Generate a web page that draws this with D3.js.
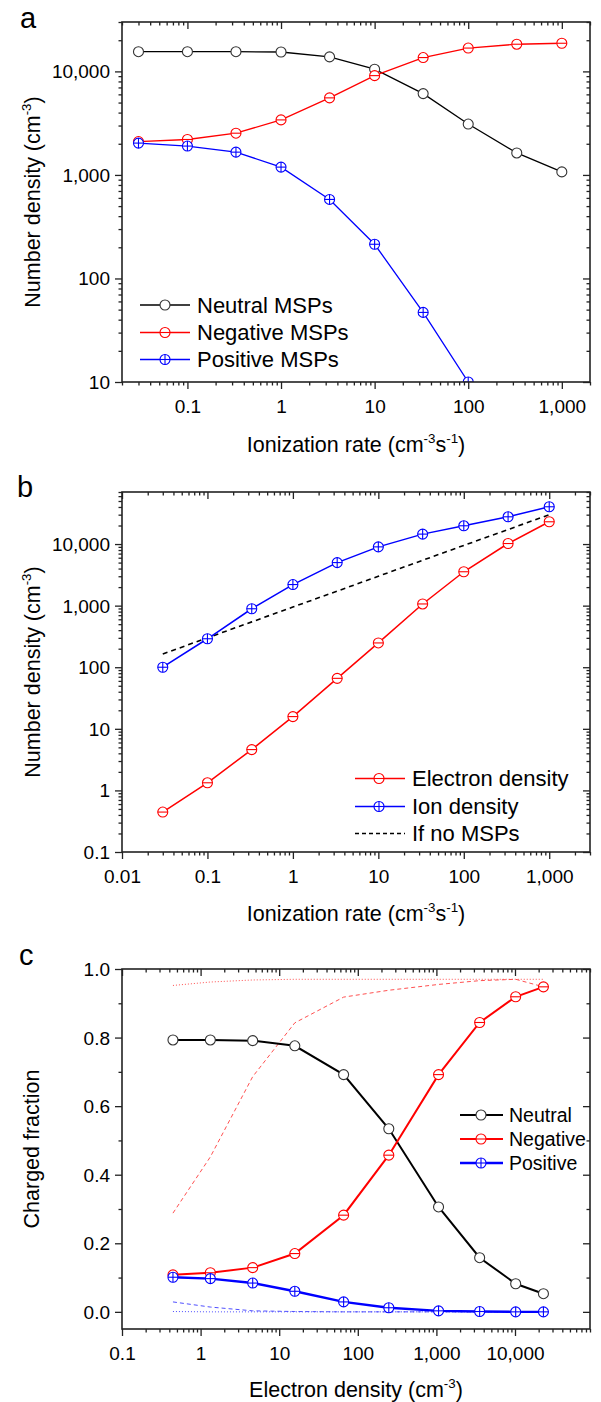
<!DOCTYPE html>
<html>
<head>
<meta charset="utf-8">
<script src="https://cdn.jsdelivr.net/npm/d3@7"></script>
<style>
  html, body { margin: 0; padding: 0; background: #fff; }
  svg { display: block; }
  text { font-family: Arial, "Liberation Sans", sans-serif; fill: #000; }
</style>
</head>
<body>
<svg id="chart" width="601" height="1402"></svg>
<script>
// ---------------- DATA ----------------
// Panel a: ionization rate vs MSP number densities
const ionRate = [0.03, 0.1, 0.33, 1, 3.3, 10, 33, 100, 330, 1000];
const neutralMSP = [15500, 15500, 15500, 15400, 13800, 10500, 6100, 3100, 1630, 1070];
const negativeMSP = [2100, 2200, 2530, 3400, 5550, 9100, 13600, 16800, 18300, 18700];
const positiveMSP = [2030, 1900, 1660, 1190, 580, 214, 47, 10];

// Panel b: ionization rate vs electron / ion density
const electronDensity = [0.445, 1.33, 4.6, 15.8, 66, 248, 1065, 3550, 10200, 23000];
const ionDensity = [100, 290, 890, 2200, 5000, 9000, 14500, 19800, 27700, 40300];
const noMSPDensity = [164, 300, 545, 950, 1720, 3000, 5450, 9500, 17200, 30000];

// Panel c: electron density vs charged fraction
const eDensityC = [0.445, 1.33, 4.6, 15.8, 66, 248, 1065, 3550, 10200, 23000];
const neutralFrac = [0.793, 0.793, 0.791, 0.776, 0.692, 0.534, 0.306, 0.158, 0.082, 0.053];
const negativeFrac = [0.108, 0.114, 0.129, 0.170, 0.282, 0.457, 0.692, 0.844, 0.919, 0.948];
const positiveFrac = [0.101, 0.097, 0.084, 0.060, 0.029, 0.012, 0.003, 0.001, 0.0, 0.0];
const negativeDashed = [0.288, 0.452, 0.686, 0.843, 0.918, 0.938, 0.955, 0.966, 0.970, 0.948];
const negativeDotted = [0.952, 0.962, 0.968, 0.970, 0.970, 0.970, 0.970, 0.970, 0.970, 0.970];
const positiveDashed = [0.029, 0.014, 0.003, 0.001, 0.0, 0.0, 0.0, 0.0, 0.0, 0.0];
const positiveDotted = [0.001, 0.0, 0.0, 0.0, 0.0, 0.0, 0.0, 0.0, 0.0, 0.0];

// Tick labels
const ticksAX = [0.1, 1, 10, 100, 1000];
const ticksAY = [10, 100, 1000, 10000];
const ticksBX = [0.01, 0.1, 1, 10, 100, 1000];
const ticksBY = [0.1, 1, 10, 100, 1000, 10000];
const ticksCX = [0.1, 1, 10, 100, 1000, 10000];
const ticksCY = [0.0, 0.2, 0.4, 0.6, 0.8, 1.0];
const ticksCYMinor = [0.1, 0.3, 0.5, 0.7, 0.9];

const legendA = ["Neutral MSPs", "Negative MSPs", "Positive MSPs"];
const legendB = ["Electron density", "Ion density", "If no MSPs"];
const legendC = ["Neutral", "Negative", "Positive"];

// ---------------- HELPERS ----------------
const svg = d3.select("#chart");
svg.append("rect").attr("width", 601).attr("height", 1402).attr("fill", "#fff");

const RED = "#ff0000", BLUE = "#0000ff", BLACK = "#000000", MK_BLACK = "#333333";
const AXIS = "#222";
const numFmt = v => v >= 1 ? d3.format(",")(v) : String(v);

function logMinors(domain) {
  const out = [];
  const lo = Math.floor(Math.log10(domain[0])), hi = Math.ceil(Math.log10(domain[1]));
  for (let e = lo; e <= hi; e++) {
    for (let k = 2; k <= 9; k++) {
      const v = k * Math.pow(10, e);
      if (v >= domain[0] * 0.9999 && v <= domain[1] * 1.0001) out.push(+v.toPrecision(6));
    }
  }
  return out;
}

function styleAxis(g) {
  g.selectAll(".domain").remove();
  g.selectAll("line").attr("stroke", AXIS).attr("stroke-width", 1.3);
  g.attr("font-family", null).attr("font-size", null);
}

function drawAxes(p, x, y, opts) {
  const { left, right, top, bottom } = p;
  const g = svg.append("g");
  // bottom
  const bMaj = g.append("g").attr("transform", `translate(0,${bottom})`)
    .call(d3.axisBottom(x).tickValues(opts.xMajor).tickFormat(opts.xFmt).tickSizeInner(7).tickSizeOuter(0));
  styleAxis(bMaj);
  bMaj.selectAll("text").attr("y", 31).attr("dy", null).style("font-size", "19px").attr("fill", "#000");
  const bMin = g.append("g").attr("transform", `translate(0,${bottom})`)
    .call(d3.axisBottom(x).tickValues(opts.xMinor).tickFormat("").tickSizeInner(3.5).tickSizeOuter(0));
  styleAxis(bMin);
  // top (inward)
  const tMaj = g.append("g").attr("transform", `translate(0,${top})`)
    .call(d3.axisTop(x).tickValues(opts.xMajor).tickFormat("").tickSizeInner(-7).tickSizeOuter(0));
  styleAxis(tMaj);
  const tMin = g.append("g").attr("transform", `translate(0,${top})`)
    .call(d3.axisTop(x).tickValues(opts.xMinor).tickFormat("").tickSizeInner(-3.5).tickSizeOuter(0));
  styleAxis(tMin);
  // left
  const lMaj = g.append("g").attr("transform", `translate(${left},0)`)
    .call(d3.axisLeft(y).tickValues(opts.yMajor).tickFormat(opts.yFmt).tickSizeInner(7).tickSizeOuter(0).tickPadding(5));
  styleAxis(lMaj);
  lMaj.selectAll("text").style("font-size", "19px").attr("fill", "#000").attr("dy", "0.34em");
  const lMin = g.append("g").attr("transform", `translate(${left},0)`)
    .call(d3.axisLeft(y).tickValues(opts.yMinor).tickFormat("").tickSizeInner(3.5).tickSizeOuter(0));
  styleAxis(lMin);
  // right (inward)
  const rMaj = g.append("g").attr("transform", `translate(${right},0)`)
    .call(d3.axisRight(y).tickValues(opts.yMajor).tickFormat("").tickSizeInner(-7).tickSizeOuter(0));
  styleAxis(rMaj);
  const rMin = g.append("g").attr("transform", `translate(${right},0)`)
    .call(d3.axisRight(y).tickValues(opts.yMinor).tickFormat("").tickSizeInner(-3.5).tickSizeOuter(0));
  styleAxis(rMin);
  // frame
  g.append("rect").attr("x", left).attr("y", top).attr("width", right - left).attr("height", bottom - top)
    .attr("fill", "none").attr("stroke", AXIS).attr("stroke-width", 1.6);
}

function richText(parent, x, y, parts, size, rotate) {
  const t = parent.append("text")
    .attr("transform", rotate ? `translate(${x},${y}) rotate(-90)` : `translate(${x},${y})`)
    .attr("text-anchor", "middle").style("font-size", size + "px");
  let raised = false;
  parts.forEach(([s, sup]) => {
    const ts = t.append("tspan").text(s);
    if (sup && !raised) { ts.attr("dy", -size * 0.4).style("font-size", (size * 0.62) + "px"); raised = true; }
    else if (!sup && raised) { ts.attr("dy", size * 0.4); raised = false; }
  });
  return t;
}

function marker(g, cx, cy, type, color, r) {
  g.append("circle").attr("cx", cx).attr("cy", cy).attr("r", r)
    .attr("fill", "#fff").attr("stroke", color).attr("stroke-width", 1.1);
  if (type === "neg" || type === "pos") {
    g.append("line").attr("x1", cx - r).attr("x2", cx + r).attr("y1", cy).attr("y2", cy)
      .attr("stroke", color).attr("stroke-width", 1.1);
  }
  if (type === "pos") {
    g.append("line").attr("x1", cx).attr("x2", cx).attr("y1", cy - r).attr("y2", cy + r)
      .attr("stroke", color).attr("stroke-width", 1.1);
  }
}

function series(g, x, y, xs, ys, color, mkColor, type, lw, r) {
  const pts = ys.map((v, i) => [xs[i], v]);
  g.append("path").datum(pts)
    .attr("d", d3.line().x(d => x(d[0])).y(d => y(d[1])))
    .attr("fill", "none").attr("stroke", color).attr("stroke-width", lw);
  pts.forEach(d => marker(g, x(d[0]), y(d[1]), type, mkColor, r));
}

function thinLine(g, x, y, xs, ys, color, dash, lw) {
  const pts = ys.map((v, i) => [xs[i], v]);
  g.append("path").datum(pts)
    .attr("d", d3.line().x(d => x(d[0])).y(d => y(d[1])))
    .attr("fill", "none").attr("stroke", color).attr("stroke-width", lw)
    .attr("stroke-dasharray", dash);
}

function legend(g, items, x0, x1, xm, xt, ys, size) {
  items.forEach((it, i) => {
    const yy = ys[i];
    g.append("line").attr("x1", x0).attr("x2", x1).attr("y1", yy).attr("y2", yy)
      .attr("stroke", it.color).attr("stroke-width", it.lw)
      .attr("stroke-dasharray", it.dash || null);
    if (it.type) marker(g, xm, yy, it.type, it.mk, 5);
    g.append("text").attr("x", xt).attr("y", yy).attr("dy", "0.36em")
      .style("font-size", size + "px").text(it.label);
  });
}

function panelLetter(x, y, s) {
  svg.append("text").attr("x", x).attr("y", y).style("font-size", "29px").text(s);
}

// ---------------- PANEL A ----------------
{
  const p = { left: 122, right: 590, top: 22, bottom: 382 };
  const x = d3.scaleLog().domain([0.02, 2000]).range([p.left, p.right]);
  const y = d3.scaleLog().domain([10, 30000]).range([p.bottom, p.top]);
  svg.append("clipPath").attr("id", "clipA").append("rect")
    .attr("x", p.left).attr("y", p.top).attr("width", p.right - p.left).attr("height", p.bottom - p.top);
  const g = svg.append("g").attr("clip-path", "url(#clipA)");
  series(g, x, y, ionRate, neutralMSP, BLACK, MK_BLACK, "neu", 1.3, 5);
  series(g, x, y, ionRate, negativeMSP, RED, RED, "neg", 1.3, 5);
  series(g, x, y, ionRate, positiveMSP, BLUE, BLUE, "pos", 1.3, 5);
  drawAxes(p, x, y, {
    xMajor: ticksAX, xMinor: logMinors([0.02, 2000]), xFmt: numFmt,
    yMajor: ticksAY, yMinor: logMinors([10, 30000]), yFmt: numFmt
  });
  const lg = svg.append("g");
  legend(lg, [
    { label: legendA[0], color: BLACK, mk: MK_BLACK, type: "neu", lw: 1.3 },
    { label: legendA[1], color: RED, mk: RED, type: "neg", lw: 1.3 },
    { label: legendA[2], color: BLUE, mk: BLUE, type: "pos", lw: 1.3 }
  ], 140, 190, 165, 197, [305, 332.5, 359.5], 22);
  richText(svg, 356, 452, [["Ionization rate (cm", 0], ["-3", 1], ["s", 0], ["-1", 1], [")", 0]], 21.5, false);
  richText(svg, 40, 202, [["Number density (cm", 0], ["-3", 1], [")", 0]], 21.5, true);
  panelLetter(20, 28, "a");
}

// ---------------- PANEL B ----------------
{
  const p = { left: 122, right: 590, top: 492, bottom: 852 };
  const x = d3.scaleLog().domain([0.01, 3000]).range([p.left, p.right]);
  const y = d3.scaleLog().domain([0.1, 70000]).range([p.bottom, p.top]);
  const g = svg.append("g");
  thinLine(g, x, y, ionRate, noMSPDensity, BLACK, "5,4", 1.6);
  series(g, x, y, ionRate, electronDensity, RED, RED, "neg", 1.5, 5);
  series(g, x, y, ionRate, ionDensity, BLUE, BLUE, "pos", 1.5, 5);
  drawAxes(p, x, y, {
    xMajor: ticksBX, xMinor: logMinors([0.01, 3000]), xFmt: numFmt,
    yMajor: ticksBY, yMinor: logMinors([0.1, 70000]), yFmt: numFmt
  });
  const lg = svg.append("g");
  legend(lg, [
    { label: legendB[0], color: RED, mk: RED, type: "neg", lw: 1.5 },
    { label: legendB[1], color: BLUE, mk: BLUE, type: "pos", lw: 1.5 },
    { label: legendB[2], color: BLACK, lw: 1.3, dash: "4,3" }
  ], 355, 405, 379, 412, [778.5, 806.5, 833.5], 22);
  richText(svg, 356, 921, [["Ionization rate (cm", 0], ["-3", 1], ["s", 0], ["-1", 1], [")", 0]], 21.5, false);
  richText(svg, 40, 672, [["Number density (cm", 0], ["-3", 1], [")", 0]], 21.5, true);
  panelLetter(17, 497, "b");
}

// ---------------- PANEL C ----------------
{
  const p = { left: 122, right: 590, top: 969, bottom: 1329 };
  const x = d3.scaleLog().domain([0.1, 90000]).range([p.left, p.right]);
  const y = d3.scaleLinear().domain([-0.05, 1.0]).range([p.bottom, p.top]);
  const g = svg.append("g");
  thinLine(g, x, y, eDensityC, negativeDotted, "#ff5050", "1,2", 1);
  thinLine(g, x, y, eDensityC, negativeDashed, "#ff5050", "4,3", 1);
  thinLine(g, x, y, eDensityC, positiveDotted, "#5050ff", "1,2", 1);
  thinLine(g, x, y, eDensityC, positiveDashed, "#5050ff", "4,3", 1);
  series(g, x, y, eDensityC, neutralFrac, BLACK, MK_BLACK, "neu", 2, 5);
  series(g, x, y, eDensityC, negativeFrac, RED, RED, "neg", 2, 5);
  series(g, x, y, eDensityC, positiveFrac, BLUE, BLUE, "pos", 2.4, 5);
  drawAxes(p, x, y, {
    xMajor: ticksCX, xMinor: logMinors([0.1, 90000]), xFmt: numFmt,
    yMajor: ticksCY, yMinor: ticksCYMinor, yFmt: d3.format(".1f")
  });
  const lg = svg.append("g");
  legend(lg, [
    { label: legendC[0], color: BLACK, mk: MK_BLACK, type: "neu", lw: 2 },
    { label: legendC[1], color: RED, mk: RED, type: "neg", lw: 2 },
    { label: legendC[2], color: BLUE, mk: BLUE, type: "pos", lw: 2.4 }
  ], 460, 503, 481, 509, [1115, 1139, 1163], 19.5);
  richText(svg, 356, 1397, [["Electron density (cm", 0], ["-3", 1], [")", 0]], 21.5, false);
  richText(svg, 39, 1149, [["Charged fraction", 0]], 21.5, true);
  panelLetter(19, 965, "c");
}
</script>
</body>
</html>
